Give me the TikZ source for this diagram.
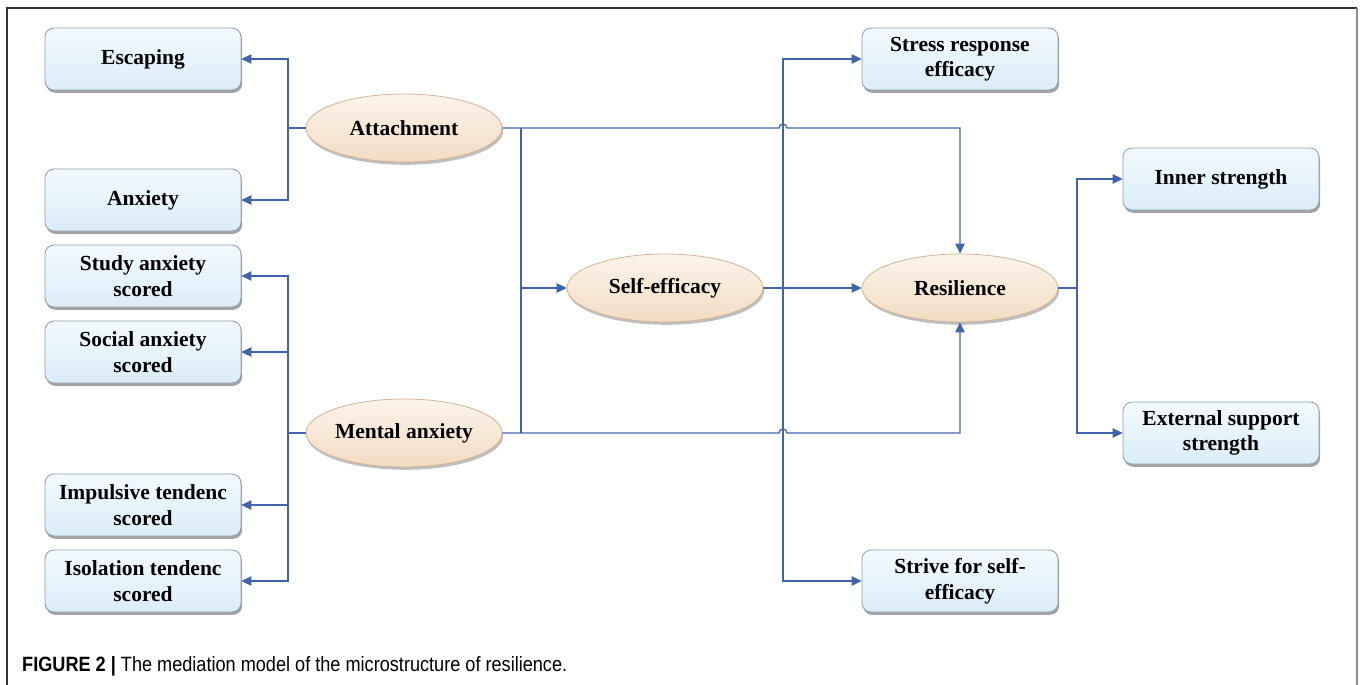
\documentclass[tikz,border=0pt]{standalone}
\usepackage{fontspec}
\setmainfont{Liberation Serif}
\newfontfamily\capfont{Liberation Sans}
\usetikzlibrary{shapes.geometric,shadows,arrows.meta}
\definecolor{linec}{HTML}{4264AB}
\definecolor{boxedge}{HTML}{8E9DAD}
\definecolor{boxtop}{HTML}{F3FAFE}
\definecolor{boxbot}{HTML}{DAEDF9}
\definecolor{ovtop}{HTML}{FDF4EA}
\definecolor{ovbot}{HTML}{F2DCC3}
\definecolor{ovedge}{HTML}{CDB398}
\tikzset{
  boxnode/.style={rectangle, rounded corners=9pt, minimum width=196pt, minimum height=62pt,
    draw=boxedge, line width=0.8pt, top color=boxtop, bottom color=boxbot, align=center,
    inner sep=2pt, font=\fontsize{21.5}{25.5}\selectfont\bfseries,
    drop shadow={shadow xshift=1.2pt, shadow yshift=-2.8pt, fill=black!60, opacity=.6}},
  ovalnode/.style={ellipse, minimum width=196pt, minimum height=68pt, inner sep=0pt,
    draw=ovedge, line width=0.8pt, top color=ovtop, bottom color=ovbot,
    font=\fontsize{21.5}{25.5}\selectfont\bfseries,
    drop shadow={shadow xshift=1.2pt, shadow yshift=-2.8pt, fill=black!50, opacity=.5}},
  conn/.style={draw=linec, line width=1.3pt},
  arr/.style={conn, -{Triangle[length=10pt,width=9.5pt]}}
}
\begin{document}
\begin{tikzpicture}[x=1pt,y=-1pt]
\useasboundingbox (0,0) rectangle (1360,685);
% frame
\draw[line width=1.3pt, black!80] (7,686) -- (7,8) -- (1357,8);
\draw[line width=1.6pt, black!45] (1357,8) -- (1357,686);
% left boxes
\node[boxnode] (esc) at (143,59) {Escaping};
\node[boxnode] (anx) at (143,200) {Anxiety};
\node[boxnode] (study) at (143,276) {Study anxiety\\scored};
\node[boxnode] (social) at (143,352) {Social anxiety\\scored};
\node[boxnode] (impul) at (143,505) {Impulsive tendenc\\scored};
\node[boxnode] (isol) at (143,581) {Isolation tendenc\\scored};
% right boxes
\node[boxnode] (stress) at (960,59) {Stress response\\efficacy};
\node[boxnode] (strive) at (960,581) {Strive for self-\\efficacy};
\node[boxnode] (inner) at (1221,179) {Inner strength};
\node[boxnode] (ext) at (1221,433) {External support\\strength};
% ellipses
\node[ovalnode] (att) at (404,128) {Attachment};
\node[ovalnode] (ment) at (404,433) {Mental anxiety};
\node[ovalnode] (self) at (665,288) {Self-efficacy};
\node[ovalnode] (res) at (960,288) {Resilience};
% junctions
\coordinate (jA) at (288,128);
\coordinate (jM) at (288,433);
\coordinate (jS) at (521,288);
\coordinate (jT) at (521,128);
\coordinate (jB) at (521,433);
\coordinate (jR) at (783,288);
\coordinate (jE) at (1077,288);
% attachment to left
\draw[conn] (att.west) -- (jA);
\draw[arr] (jA) |- (esc.east);
\draw[arr] (jA) |- (anx.east);
% mental anxiety to left
\draw[conn] (ment.west) -- (jM);
\draw[arr] (jM) |- (study.east);
\draw[arr] (jM) |- (social.east);
\draw[arr] (jM) |- (impul.east);
\draw[arr] (jM) |- (isol.east);
% to self-efficacy
\draw[conn] (jT) -- (jB);
\draw[arr] (jS) -- (self.west);
% attachment / mental anxiety to resilience (with hops)
\draw[arr] (att.east) -- (779,128) arc[start angle=180, end angle=0, radius=4pt] -| (res.north);
\draw[arr] (ment.east) -- (779,433) arc[start angle=180, end angle=0, radius=4pt] -| (res.south);
% self-efficacy to resilience and its facets
\draw[arr] (self.east) -- (res.west);
\draw[arr] (jR) |- (stress.west);
\draw[arr] (jR) |- (strive.west);
% resilience to facets
\draw[conn] (res.east) -- (jE);
\draw[arr] (jE) |- (inner.west);
\draw[arr] (jE) |- (ext.west);
% caption
\node[anchor=base west, inner sep=0pt] (cap) at (22,671)
  {\resizebox{545pt}{15pt}{\capfont\fontsize{16}{19}\selectfont\textbf{FIGURE 2 |} The mediation model of the microstructure of resilience.}};
\end{tikzpicture}
\end{document}
